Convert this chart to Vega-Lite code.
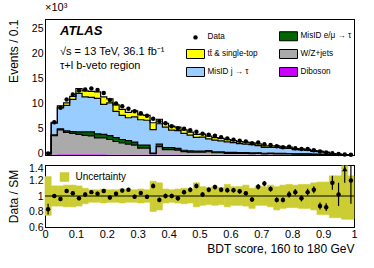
{
  "$schema": "https://vega.github.io/schema/vega-lite/v6.json",
  "padding": {"left": 6, "right": 4, "top": 1, "bottom": 2},
  "spacing": 10,
  "bounds": "flush",
  "resolve": {"scale": {"fill": "independent"}, "legend": {"fill": "independent"}},
  "config": {
    "font": "Liberation Sans",
    "view": {"stroke": "black", "strokeWidth": 1},
    "axis": {"labelFont": "Liberation Sans", "titleFont": "Liberation Sans", "labelFontSize": 11, "titleFontSize": 12, "titleFontWeight": "normal", "labelColor": "#000", "titleColor": "#000", "tickColor": "#000", "domainColor": "#000", "tickWidth": 1, "domainWidth": 1, "labelFlush": false, "labelOverlap": false, "labelBound": false, "grid": false, "zindex": 1, "tickSize": 0, "domain": true},
    "legend": {"labelFont": "Liberation Sans", "labelColor": "#000"}
  },
  "datasets": {
    "bins": [
      {"x":0.01,"lo":0,"hi":0.02,"dib":0.01,"wz":0.2,"emu":0.02,"jet":0.15,"tt":0.02,"data":0.33,"ratio":0.83,"err":0.07,"ulo":0.75,"uhi":1.25},
      {"x":0.03,"lo":0.02,"hi":0.04,"dib":0.1,"wz":3.8,"emu":0.15,"jet":2.35,"tt":0.2,"data":6.6,"ratio":1.0,"err":0.025,"ulo":0.87,"uhi":1.13},
      {"x":0.05,"lo":0.04,"hi":0.06,"dib":0.15,"wz":4.9,"emu":0.2,"jet":4.25,"tt":0.4,"data":9.5,"ratio":0.96,"err":0.025,"ulo":0.87,"uhi":1.13},
      {"x":0.07,"lo":0.06,"hi":0.08,"dib":0.15,"wz":4.4,"emu":0.3,"jet":5.15,"tt":0.5,"data":11.2,"ratio":1.065,"err":0.025,"ulo":0.86,"uhi":1.14},
      {"x":0.09,"lo":0.08,"hi":0.1,"dib":0.15,"wz":4.2,"emu":0.35,"jet":6.5,"tt":0.6,"data":12.2,"ratio":1.035,"err":0.025,"ulo":0.86,"uhi":1.14},
      {"x":0.11,"lo":0.1,"hi":0.12,"dib":0.15,"wz":4.0,"emu":0.5,"jet":7.75,"tt":1.0,"data":13.0,"ratio":0.97,"err":0.025,"ulo":0.87,"uhi":1.13},
      {"x":0.13,"lo":0.12,"hi":0.14,"dib":0.15,"wz":3.8,"emu":0.7,"jet":7.05,"tt":1.2,"data":13.2,"ratio":1.02,"err":0.025,"ulo":0.9,"uhi":1.1},
      {"x":0.15,"lo":0.14,"hi":0.16,"dib":0.15,"wz":3.7,"emu":0.8,"jet":6.95,"tt":1.2,"data":13.4,"ratio":1.05,"err":0.025,"ulo":0.92,"uhi":1.08},
      {"x":0.17,"lo":0.16,"hi":0.18,"dib":0.15,"wz":3.3,"emu":0.8,"jet":7.15,"tt":1.3,"data":13.1,"ratio":1.03,"err":0.025,"ulo":0.92,"uhi":1.08},
      {"x":0.19,"lo":0.18,"hi":0.2,"dib":0.15,"wz":3.3,"emu":0.7,"jet":6.05,"tt":1.5,"data":12.5,"ratio":1.065,"err":0.025,"ulo":0.91,"uhi":1.09},
      {"x":0.21,"lo":0.2,"hi":0.22,"dib":0.12,"wz":3.0,"emu":0.8,"jet":6.58,"tt":0.8,"data":11.1,"ratio":0.98,"err":0.025,"ulo":0.92,"uhi":1.08},
      {"x":0.23,"lo":0.22,"hi":0.24,"dib":0.12,"wz":2.6,"emu":0.8,"jet":5.28,"tt":1.3,"data":10.4,"ratio":1.03,"err":0.025,"ulo":0.92,"uhi":1.08},
      {"x":0.25,"lo":0.24,"hi":0.26,"dib":0.12,"wz":2.3,"emu":0.7,"jet":4.88,"tt":1.2,"data":9.8,"ratio":1.07,"err":0.025,"ulo":0.91,"uhi":1.09},
      {"x":0.27,"lo":0.26,"hi":0.28,"dib":0.1,"wz":2.1,"emu":0.7,"jet":4.6,"tt":1.1,"data":9.3,"ratio":1.08,"err":0.025,"ulo":0.92,"uhi":1.08},
      {"x":0.29,"lo":0.28,"hi":0.3,"dib":0.1,"wz":1.9,"emu":0.6,"jet":5.1,"tt":1.2,"data":8.8,"ratio":0.99,"err":0.025,"ulo":0.92,"uhi":1.08},
      {"x":0.31,"lo":0.3,"hi":0.32,"dib":0.1,"wz":1.3,"emu":0.6,"jet":5.1,"tt":1.0,"data":8.4,"ratio":1.04,"err":0.025,"ulo":0.91,"uhi":1.09},
      {"x":0.33,"lo":0.32,"hi":0.34,"dib":0.1,"wz":1.3,"emu":0.6,"jet":5.0,"tt":1.0,"data":7.9,"ratio":0.99,"err":0.025,"ulo":0.92,"uhi":1.08},
      {"x":0.35,"lo":0.34,"hi":0.36,"dib":0.08,"wz":0.2,"emu":0.1,"jet":4.72,"tt":1.4,"data":7.3,"ratio":1.13,"err":0.03,"ulo":0.8,"uhi":1.19},
      {"x":0.37,"lo":0.36,"hi":0.38,"dib":0.08,"wz":1.6,"emu":0.5,"jet":4.12,"tt":0.9,"data":6.8,"ratio":0.95,"err":0.03,"ulo":0.82,"uhi":1.17},
      {"x":0.39,"lo":0.38,"hi":0.4,"dib":0.08,"wz":1.0,"emu":0.4,"jet":4.12,"tt":0.8,"data":6.4,"ratio":1.0,"err":0.03,"ulo":0.91,"uhi":1.09},
      {"x":0.41,"lo":0.4,"hi":0.42,"dib":0.08,"wz":1.0,"emu":0.4,"jet":3.52,"tt":0.8,"data":5.8,"ratio":1.0,"err":0.03,"ulo":0.92,"uhi":1.08},
      {"x":0.43,"lo":0.42,"hi":0.44,"dib":0.08,"wz":0.9,"emu":0.35,"jet":3.57,"tt":0.7,"data":5.4,"ratio":0.97,"err":0.03,"ulo":0.91,"uhi":1.09},
      {"x":0.45,"lo":0.44,"hi":0.46,"dib":0.06,"wz":0.6,"emu":0.3,"jet":3.39,"tt":0.7,"data":5.3,"ratio":1.05,"err":0.03,"ulo":0.9,"uhi":1.1},
      {"x":0.47,"lo":0.46,"hi":0.48,"dib":0.06,"wz":0.5,"emu":0.3,"jet":3.14,"tt":0.6,"data":5.0,"ratio":1.08,"err":0.03,"ulo":0.91,"uhi":1.09},
      {"x":0.49,"lo":0.48,"hi":0.5,"dib":0.06,"wz":0.5,"emu":0.25,"jet":2.74,"tt":0.6,"data":4.7,"ratio":1.13,"err":0.03,"ulo":0.86,"uhi":1.17},
      {"x":0.51,"lo":0.5,"hi":0.52,"dib":0.05,"wz":0.5,"emu":0.25,"jet":2.8,"tt":0.6,"data":4.3,"ratio":1.02,"err":0.03,"ulo":0.88,"uhi":1.12},
      {"x":0.53,"lo":0.52,"hi":0.54,"dib":0.05,"wz":0.6,"emu":0.25,"jet":2.35,"tt":0.55,"data":4.1,"ratio":1.08,"err":0.03,"ulo":0.89,"uhi":1.11},
      {"x":0.55,"lo":0.54,"hi":0.56,"dib":0.05,"wz":0.4,"emu":0.2,"jet":2.35,"tt":0.5,"data":3.9,"ratio":1.115,"err":0.03,"ulo":0.88,"uhi":1.12},
      {"x":0.57,"lo":0.56,"hi":0.58,"dib":0.05,"wz":0.4,"emu":0.2,"jet":2.2,"tt":0.5,"data":3.6,"ratio":1.08,"err":0.03,"ulo":0.89,"uhi":1.11},
      {"x":0.59,"lo":0.58,"hi":0.6,"dib":0.04,"wz":0.3,"emu":0.18,"jet":2.13,"tt":0.45,"data":3.35,"ratio":1.075,"err":0.03,"ulo":0.86,"uhi":1.15},
      {"x":0.61,"lo":0.6,"hi":0.62,"dib":0.04,"wz":0.3,"emu":0.18,"jet":1.98,"tt":0.4,"data":3.1,"ratio":1.075,"err":0.03,"ulo":0.88,"uhi":1.12},
      {"x":0.63,"lo":0.62,"hi":0.64,"dib":0.04,"wz":0.3,"emu":0.15,"jet":1.81,"tt":0.4,"data":2.85,"ratio":1.06,"err":0.03,"ulo":0.88,"uhi":1.12},
      {"x":0.65,"lo":0.64,"hi":0.66,"dib":0.04,"wz":0.3,"emu":0.15,"jet":1.71,"tt":0.4,"data":2.7,"ratio":1.035,"err":0.03,"ulo":0.87,"uhi":1.14},
      {"x":0.67,"lo":0.66,"hi":0.68,"dib":0.03,"wz":0.25,"emu":0.15,"jet":1.67,"tt":0.35,"data":2.35,"ratio":0.955,"err":0.03,"ulo":0.84,"uhi":1.1},
      {"x":0.69,"lo":0.68,"hi":0.7,"dib":0.03,"wz":0.3,"emu":0.12,"jet":1.45,"tt":0.35,"data":2.5,"ratio":1.12,"err":0.035,"ulo":0.88,"uhi":1.13},
      {"x":0.71,"lo":0.7,"hi":0.72,"dib":0.03,"wz":0.2,"emu":0.12,"jet":1.2,"tt":0.3,"data":2.15,"ratio":1.16,"err":0.035,"ulo":0.88,"uhi":1.12},
      {"x":0.73,"lo":0.72,"hi":0.74,"dib":0.03,"wz":0.25,"emu":0.1,"jet":1.17,"tt":0.3,"data":2.0,"ratio":1.09,"err":0.035,"ulo":0.86,"uhi":1.14},
      {"x":0.75,"lo":0.74,"hi":0.76,"dib":0.03,"wz":0.2,"emu":0.1,"jet":1.22,"tt":0.3,"data":1.75,"ratio":0.95,"err":0.035,"ulo":0.82,"uhi":1.12},
      {"x":0.77,"lo":0.76,"hi":0.78,"dib":0.02,"wz":0.2,"emu":0.1,"jet":1.08,"tt":0.25,"data":1.55,"ratio":0.95,"err":0.035,"ulo":0.84,"uhi":1.14},
      {"x":0.79,"lo":0.78,"hi":0.8,"dib":0.02,"wz":0.2,"emu":0.08,"jet":1.05,"tt":0.25,"data":1.65,"ratio":1.02,"err":0.04,"ulo":0.85,"uhi":1.15},
      {"x":0.81,"lo":0.8,"hi":0.82,"dib":0.02,"wz":0.15,"emu":0.08,"jet":0.85,"tt":0.2,"data":1.35,"ratio":1.05,"err":0.04,"ulo":0.85,"uhi":1.14},
      {"x":0.83,"lo":0.82,"hi":0.84,"dib":0.02,"wz":0.15,"emu":0.06,"jet":0.82,"tt":0.2,"data":1.2,"ratio":0.97,"err":0.04,"ulo":0.84,"uhi":1.15},
      {"x":0.85,"lo":0.84,"hi":0.86,"dib":0.02,"wz":0.15,"emu":0.06,"jet":0.72,"tt":0.2,"data":1.2,"ratio":1.05,"err":0.045,"ulo":0.84,"uhi":1.15},
      {"x":0.87,"lo":0.86,"hi":0.88,"dib":0.01,"wz":0.1,"emu":0.05,"jet":0.59,"tt":0.15,"data":0.95,"ratio":1.08,"err":0.045,"ulo":0.82,"uhi":1.17},
      {"x":0.89,"lo":0.88,"hi":0.9,"dib":0.01,"wz":0.1,"emu":0.04,"jet":0.5,"tt":0.15,"data":0.7,"ratio":0.87,"err":0.045,"ulo":0.76,"uhi":1.18},
      {"x":0.91,"lo":0.9,"hi":0.92,"dib":0.01,"wz":0.08,"emu":0.03,"jet":0.38,"tt":0.1,"data":0.5,"ratio":0.855,"err":0.05,"ulo":0.76,"uhi":1.18},
      {"x":0.93,"lo":0.92,"hi":0.94,"dib":0.01,"wz":0.05,"emu":0.02,"jet":0.16,"tt":0.06,"data":0.35,"ratio":1.17,"err":0.09,"ulo":0.72,"uhi":1.26},
      {"x":0.95,"lo":0.94,"hi":0.96,"dib":0.005,"wz":0.03,"emu":0.01,"jet":0.105,"tt":0.04,"data":0.18,"ratio":1.02,"err":0.15,"ulo":0.72,"uhi":1.26},
      {"x":0.97,"lo":0.96,"hi":0.98,"dib":0.003,"wz":0.02,"emu":0.005,"jet":0.022,"tt":0.01,"data":0.1,"ratio":1.6,"err":0.43,"ulo":0.7,"uhi":1.39},
      {"x":0.99,"lo":0.98,"hi":1,"dib":0.002,"wz":0.01,"emu":0.003,"jet":0.015,"tt":0.01,"data":0.05,"ratio":1.2,"err":0.3,"ulo":0.7,"uhi":1.26}
    ]
  },
  "vconcat": [
    {
      "width": 309,
      "height": 136,
      "title": {"text": "×10³", "anchor": "start", "frame": "group", "fontSize": 11, "fontWeight": "normal", "font": "Liberation Sans", "offset": 1, "color": "#000"},
      "data": {"name": "bins"},
      "resolve": {"axis": {"x": "independent", "y": "independent"}},
      "layer": [
        {
          "transform": [
            {"fold": ["dib", "wz", "emu", "jet", "tt"], "as": ["key", "value"]},
            {"calculate": "indexof(['dib','wz','emu','jet','tt'], datum.key)", "as": "ord"},
            {"stack": "value", "groupby": ["x"], "sort": [{"field": "ord", "order": "ascending"}], "as": ["y0", "y1"]}
          ],
          "mark": {"type": "area", "interpolate": "step", "strokeWidth": 0},
          "encoding": {
            "x": {"field": "x", "type": "quantitative", "scale": {"domain": [0, 1], "nice": false, "zero": false},
              "axis": {"orient": "bottom", "title": null, "labels": false, "values": [0,0.02,0.04,0.06,0.08,0.1,0.12,0.14,0.16,0.18,0.2,0.22,0.24,0.26,0.28,0.3,0.32,0.34,0.36,0.38,0.4,0.42,0.44,0.46,0.48,0.5,0.52,0.54,0.56,0.58,0.6,0.62,0.64,0.66,0.68,0.7,0.72,0.74,0.76,0.78,0.8,0.82,0.84,0.86,0.88,0.9,0.92,0.94,0.96,0.98,1],
                "encode": {"ticks": {"update": {"y2": {"signal": "round(datum.value*50)%5===0 ? -6 : -3"}}}}}},
            "y": {"field": "y1", "type": "quantitative", "stack": null, "scale": {"domain": [0, 27.4], "nice": false},
              "axis": {"orient": "left", "title": "Events / 0.1", "titleAnchor": "end", "titlePadding": 7, "labelPadding": 2, "labelOffset": -2, "labelFontSize": 10.5, "minExtent": 18, "maxExtent": 18,
                "values": [0,1,2,3,4,5,6,7,8,9,10,11,12,13,14,15,16,17,18,19,20,21,22,23,24,25,26,27],
                "labelExpr": "datum.value % 5 === 0 ? datum.label : ''",
                "encode": {"ticks": {"update": {"x2": {"signal": "datum.value % 5 === 0 ? 8 : 4"}}}}}},
            "y2": {"field": "y0"},
            "fill": {"field": "key", "type": "nominal",
              "scale": {"domain": ["Data", "tt", "jet", "emu", "wz", "dib"], "range": ["#000000", "#ffff00", "#99ccff", "#006600", "#aaaaaa", "#cc00ff"]},
              "legend": {"orient": "none", "legendX": 141, "legendY": 12, "title": null, "columns": 2, "padding": 0,
                "symbolSize": 81, "symbolOffset": 4.5, "labelOffset": 7, "labelFontSize": 8.2, "rowPadding": 4, "columnPadding": 19,
                "labelExpr": "{'Data':'Data','emu':'MisID e/μ → τ','tt':'tt̄ & single-top','wz':'W/Z+jets','jet':'MisID j → τ','dib':'Diboson'}[datum.label]",
                "encode": {"symbols": {"update": {
                  "shape": {"signal": "datum.value === 'Data' ? 'circle' : 'M-2,-1H2V1H-2Z'"},
                  "size": {"signal": "datum.value === 'Data' ? 20 : 81"},
                  "stroke": {"signal": "datum.value === 'Data' ? 'transparent' : 'black'"},
                  "strokeWidth": {"value": 1},
                  "opacity": {"value": 1}, "fillOpacity": {"value": 1}}}}}}
          }
        },
        {
          "transform": [
            {"fold": ["dib", "wz", "emu", "jet", "tt"], "as": ["key", "value"]},
            {"calculate": "indexof(['dib','wz','emu','jet','tt'], datum.key)", "as": "ord"},
            {"stack": "value", "groupby": ["x"], "sort": [{"field": "ord", "order": "ascending"}], "as": ["y0", "y1"]},
            {"filter": "datum.key !== 'dib'"}
          ],
          "mark": {"type": "line", "interpolate": "step", "color": "black", "strokeWidth": 1.2},
          "encoding": {
            "x": {"field": "x", "type": "quantitative",
              "axis": {"orient": "top", "title": null, "labels": false, "values": [0,0.02,0.04,0.06,0.08,0.1,0.12,0.14,0.16,0.18,0.2,0.22,0.24,0.26,0.28,0.3,0.32,0.34,0.36,0.38,0.4,0.42,0.44,0.46,0.48,0.5,0.52,0.54,0.56,0.58,0.6,0.62,0.64,0.66,0.68,0.7,0.72,0.74,0.76,0.78,0.8,0.82,0.84,0.86,0.88,0.9,0.92,0.94,0.96,0.98,1],
                "encode": {"ticks": {"update": {"y2": {"signal": "round(datum.value*50)%5===0 ? 6 : 3"}}}}}},
            "y": {"field": "y1", "type": "quantitative",
              "axis": {"orient": "right", "title": null, "labels": false, "values": [0,1,2,3,4,5,6,7,8,9,10,11,12,13,14,15,16,17,18,19,20,21,22,23,24,25,26,27],
                "encode": {"ticks": {"update": {"x2": {"signal": "datum.value % 5 === 0 ? -8 : -4"}}}}}},
            "detail": {"field": "key"}
          }
        },
        {
          "mark": {"type": "point", "shape": "circle", "filled": true, "color": "black", "size": 20, "opacity": 1},
          "encoding": {
            "x": {"field": "x", "type": "quantitative", "axis": null},
            "y": {"field": "data", "type": "quantitative", "axis": null}
          }
        },
        {
          "data": {"values": [{}]},
          "mark": {"type": "text", "text": "ATLAS", "font": "Liberation Sans", "fontSize": 13, "fontWeight": "bold", "fontStyle": "italic", "align": "left", "baseline": "middle", "color": "black"},
          "encoding": {"x": {"datum": 0.0485, "type": "quantitative", "axis": null}, "y": {"datum": 24.9, "type": "quantitative", "axis": null}}
        },
        {
          "data": {"values": [{}]},
          "mark": {"type": "text", "text": "√s = 13 TeV, 36.1 fb⁻¹", "font": "Liberation Sans", "fontSize": 11, "align": "left", "baseline": "middle", "color": "black"},
          "encoding": {"x": {"datum": 0.0485, "type": "quantitative", "axis": null}, "y": {"datum": 20.7, "type": "quantitative", "axis": null}}
        },
        {
          "data": {"values": [{}]},
          "mark": {"type": "text", "text": "τ+l b-veto region", "font": "Liberation Sans", "fontSize": 11, "align": "left", "baseline": "middle", "color": "black"},
          "encoding": {"x": {"datum": 0.0485, "type": "quantitative", "axis": null}, "y": {"datum": 18.0, "type": "quantitative", "axis": null}}
        }
      ]
    },
    {
      "width": 309,
      "height": 62,
      "data": {"name": "bins"},
      "resolve": {"axis": {"x": "independent", "y": "independent"}},
      "layer": [
        {
          "mark": {"type": "bar", "stroke": "#cccc33", "strokeWidth": 0.6},
          "encoding": {
            "x": {"field": "lo", "type": "quantitative", "scale": {"domain": [0, 1], "nice": false, "zero": false},
              "axis": {"orient": "bottom", "title": "BDT score, 160 to 180 GeV", "titleAnchor": "end", "titlePadding": 4, "labelPadding": 1,
                "values": [0,0.02,0.04,0.06,0.08,0.1,0.12,0.14,0.16,0.18,0.2,0.22,0.24,0.26,0.28,0.3,0.32,0.34,0.36,0.38,0.4,0.42,0.44,0.46,0.48,0.5,0.52,0.54,0.56,0.58,0.6,0.62,0.64,0.66,0.68,0.7,0.72,0.74,0.76,0.78,0.8,0.82,0.84,0.86,0.88,0.9,0.92,0.94,0.96,0.98,1],
                "labelExpr": "round(datum.value*50)%5===0 ? format(datum.value,'~g') : ''",
                "encode": {"ticks": {"update": {"y2": {"signal": "round(datum.value*50)%5===0 ? -6 : -3"}}}}}},
            "x2": {"field": "hi"},
            "y": {"field": "ulo", "type": "quantitative", "scale": {"domain": [0.6, 1.4], "nice": false, "zero": false, "clamp": true},
              "axis": {"orient": "left", "title": "Data / SM", "titlePadding": 7, "labelPadding": 2, "labelFontSize": 10.5, "minExtent": 18, "maxExtent": 18,
                "labelOffset": {"condition": {"test": "datum.value === 1.4", "value": 3}, "value": 0},
                "values": [0.6,0.65,0.7,0.75,0.8,0.85,0.9,0.95,1,1.05,1.1,1.15,1.2,1.25,1.3,1.35,1.4],
                "labelExpr": "round(datum.value*20)%4===0 ? format(datum.value,'~g') : ''",
                "encode": {"ticks": {"update": {"x2": {"signal": "round(datum.value*20)%4===0 ? 8 : 4"}}}}}},
            "y2": {"field": "uhi"},
            "fill": {"datum": "Uncertainty", "type": "nominal", "scale": {"domain": ["Uncertainty"], "range": ["#cccc33"]},
              "legend": {"orient": "none", "legendX": 10, "legendY": 7, "title": null, "padding": 0, "symbolSize": 64, "symbolOffset": 4.5, "labelOffset": 6, "labelFontSize": 10,
                "encode": {"symbols": {"update": {"shape": {"value": "M-2.1,-1H2.1V1H-2.1Z"}, "stroke": {"value": "black"}, "strokeWidth": {"value": 1}, "opacity": {"value": 1}, "fillOpacity": {"value": 1}}}}}}
          }
        },
        {
          "data": {"values": [{}]},
          "mark": {"type": "rule", "color": "black", "strokeWidth": 1},
          "encoding": {"y": {"datum": 1, "type": "quantitative", "axis": null}}
        },
        {
          "mark": {"type": "errorbar", "color": "black", "ticks": false, "rule": {"strokeWidth": 1.2}},
          "encoding": {
            "x": {"field": "x", "type": "quantitative", "axis": null},
            "y": {"field": "ratio", "type": "quantitative", "axis": null},
            "yError": {"field": "err"}
          }
        },
        {
          "transform": [{"filter": "datum.ratio <= 1.4"}],
          "mark": {"type": "point", "shape": "circle", "filled": true, "color": "black", "size": 20, "opacity": 1},
          "encoding": {
            "x": {"field": "x", "type": "quantitative",
              "axis": {"orient": "top", "title": null, "labels": false, "values": [0,0.02,0.04,0.06,0.08,0.1,0.12,0.14,0.16,0.18,0.2,0.22,0.24,0.26,0.28,0.3,0.32,0.34,0.36,0.38,0.4,0.42,0.44,0.46,0.48,0.5,0.52,0.54,0.56,0.58,0.6,0.62,0.64,0.66,0.68,0.7,0.72,0.74,0.76,0.78,0.8,0.82,0.84,0.86,0.88,0.9,0.92,0.94,0.96,0.98,1],
                "encode": {"ticks": {"update": {"y2": {"signal": "round(datum.value*50)%5===0 ? 6 : 3"}}}}}},
            "y": {"field": "ratio", "type": "quantitative",
              "axis": {"orient": "right", "title": null, "labels": false, "values": [0.6,0.65,0.7,0.75,0.8,0.85,0.9,0.95,1,1.05,1.1,1.15,1.2,1.25,1.3,1.35,1.4],
                "encode": {"ticks": {"update": {"x2": {"signal": "round(datum.value*20)%4===0 ? -8 : -4"}}}}}}
          }
        },
        {
          "transform": [{"filter": "datum.ratio > 1.4"}],
          "mark": {"type": "point", "shape": "triangle-up", "filled": true, "color": "black", "size": 30, "opacity": 1, "yOffset": 4},
          "encoding": {
            "x": {"field": "x", "type": "quantitative", "axis": null},
            "y": {"field": "ratio", "type": "quantitative", "axis": null}
          }
        }
      ]
    }
  ]
}
